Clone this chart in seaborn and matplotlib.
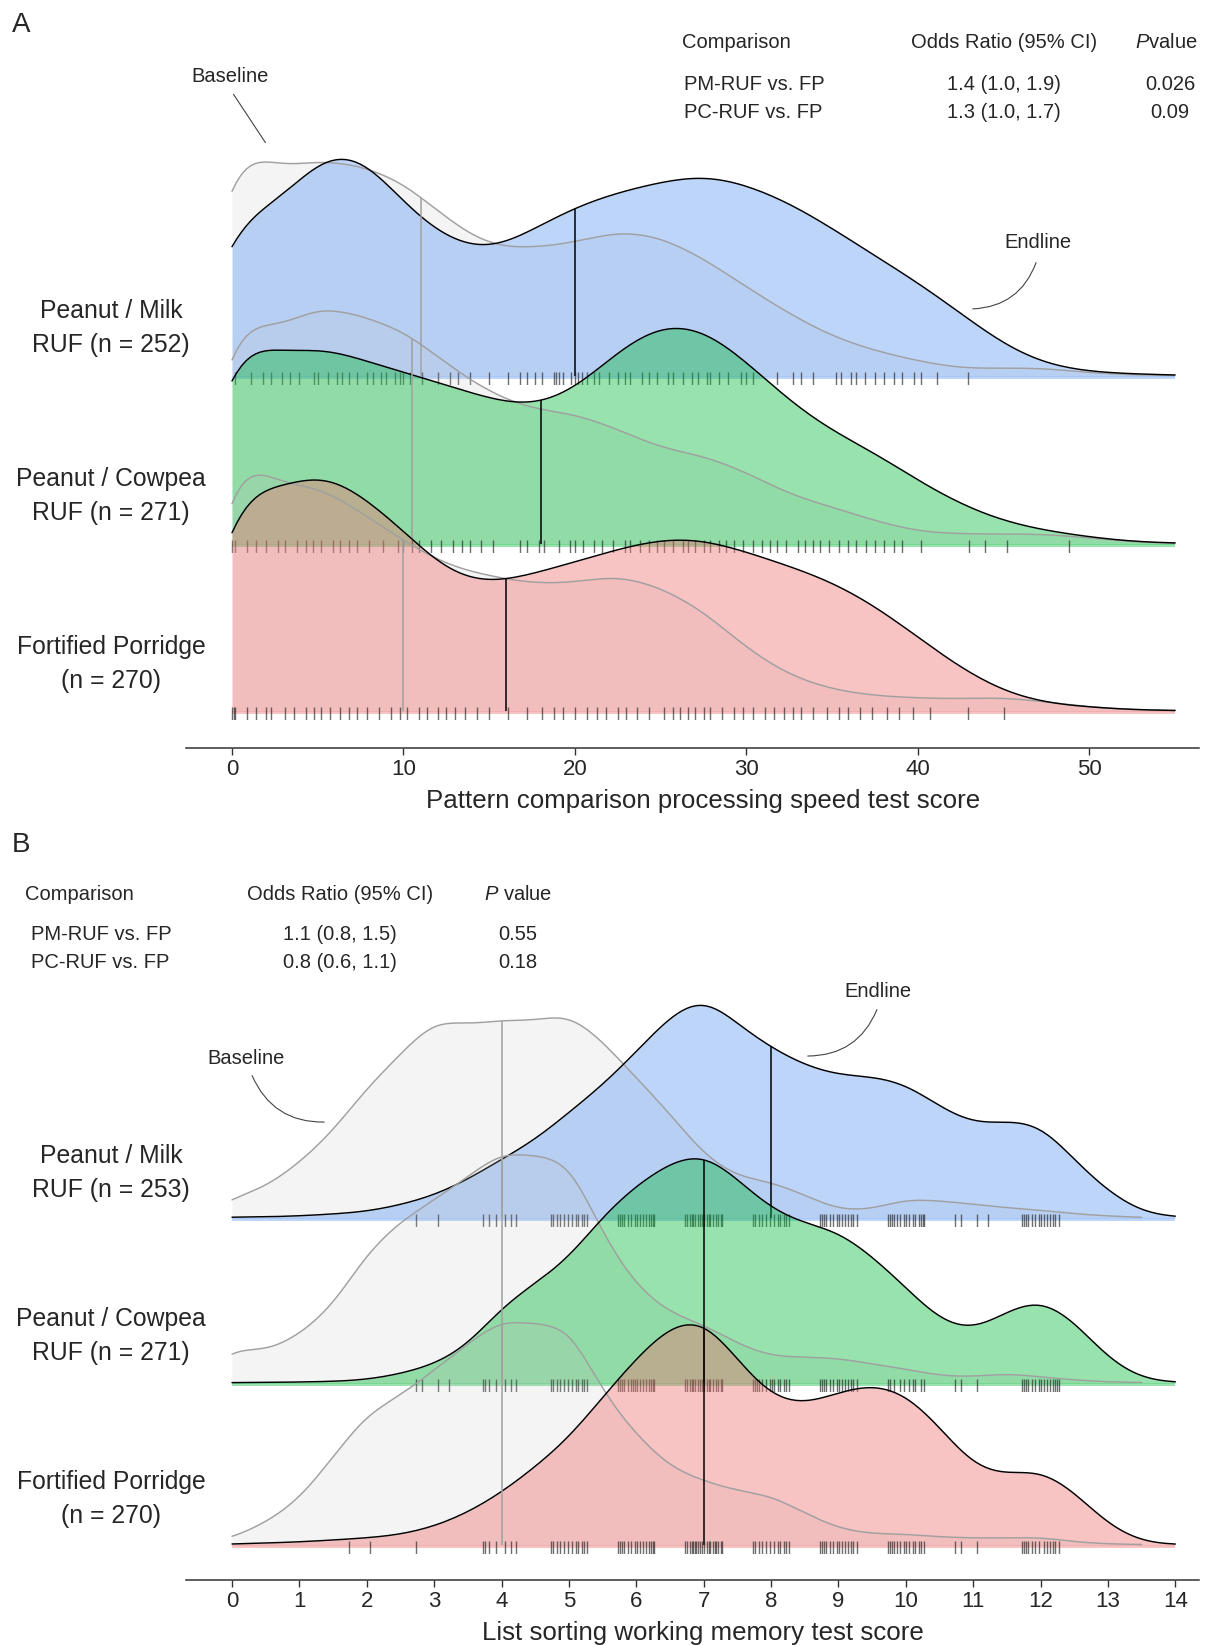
import numpy as np
import pandas as pd
import matplotlib
matplotlib.use("Agg")
import matplotlib.pyplot as plt
from matplotlib.colors import to_hex
from matplotlib.patches import FancyArrowPatch
import seaborn as sns

sns.set_style("white")
plt.rcParams["font.family"] = ["Liberation Sans", "DejaVu Sans"]
plt.rcParams["mathtext.fontset"] = "custom"
plt.rcParams["mathtext.rm"] = "Liberation Sans"
plt.rcParams["mathtext.it"] = "Liberation Sans:italic"

W, H = 1213, 1645

# ---------------- data ----------------
labels_a = ["Peanut / Milk\nRUF (n = 252)", "Peanut / Cowpea\nRUF (n = 271)", "Fortified Porridge\n(n = 270)"]
labels_b = ["Peanut / Milk\nRUF (n = 253)", "Peanut / Cowpea\nRUF (n = 271)", "Fortified Porridge\n(n = 270)"]

# panel A: estimated score distribution (relative frequency on a 2.5-point grid)
score_a = [0, 2.5, 5, 7.5, 10, 12.5, 15, 17.5, 20, 22.5, 25, 27.5, 30, 32.5, 35, 37.5, 40, 42.5, 45, 47.5, 50, 52.5, 55]
pm_base_a = [243, 205, 217, 211, 195, 157, 128, 128, 133, 146, 140, 118, 89, 62, 39, 25, 15, 7, 8, 8, 3, 1, 0.5]
pm_end_a = [174, 160, 225, 229, 170, 135, 121, 146, 170, 184, 194, 203, 192, 174, 148, 120, 94, 63, 30, 10, 4, 2, 1]
pc_base_a = [238, 210, 241, 228, 215, 180, 151, 134, 131, 115, 95, 89, 72, 49, 37, 23, 12, 10, 10, 10, 6, 2, 0.5]
pc_end_a = [228, 183, 201, 184, 172, 159, 145, 135, 152, 194, 223, 218, 183, 142, 112, 92, 63, 39, 22, 13, 7, 2, 1]
fp_base_a = [274, 224, 227, 199, 170, 145, 135, 127, 128, 137, 124, 101, 62, 35, 21, 15, 13, 12, 14, 9, 4, 1, 0.5]
fp_end_a = [247, 212, 247, 217, 182, 135, 125, 137, 149, 162, 173, 173, 159, 145, 130, 106, 74, 42, 18, 7, 4, 1, 0.5]

mean_base_a = [11.0, 10.5, 10.0]
mean_end_a = [20.0, 18.0, 16.0]

rug_pm_a = [0.2, 1.1, 1.8, 2.3, 2.9, 3.4, 3.9, 4.8, 5.0, 5.6, 6.1, 6.4, 6.8, 7.3, 7.9, 8.2, 8.7, 9.0, 9.5, 9.8,
            10.0, 10.4, 11.1, 12.0, 12.7, 13.2, 13.9, 15.0, 16.1, 16.8, 17.2, 17.7, 18.1, 18.8, 18.9, 19.1, 19.3,
            19.8, 20.0, 20.2, 20.4, 20.7, 21.1, 21.4, 22.0, 22.5, 22.9, 23.2, 23.9, 24.3, 24.8, 25.4, 25.7, 26.3,
            26.8, 27.2, 27.7, 27.9, 28.4, 28.9, 29.7, 30.0, 30.4, 31.8, 32.7, 33.2, 33.9, 35.2, 35.5, 36.1, 36.4,
            36.9, 37.5, 38.0, 38.6, 39.1, 39.8, 40.2, 41.1, 42.9]
rug_pc_a = [0.0, 0.2, 0.9, 1.4, 2.0, 2.7, 3.1, 3.8, 4.3, 4.7, 5.2, 5.9, 6.3, 6.8, 7.3, 8.0, 8.8, 9.7, 10.0, 10.5,
            10.9, 11.6, 12.2, 12.9, 13.4, 13.9, 14.5, 15.2, 16.8, 17.2, 17.9, 18.2, 19.1, 19.7, 20.0, 20.5, 21.1,
            21.6, 22.2, 22.9, 23.2, 23.8, 24.3, 24.8, 25.2, 25.7, 26.3, 26.6, 27.0, 27.5, 27.9, 28.4, 28.8, 29.3,
            29.8, 30.4, 30.9, 31.4, 31.8, 32.3, 33.0, 33.4, 33.9, 34.3, 34.8, 35.4, 35.9, 36.4, 37.0, 37.5, 38.0,
            38.6, 39.1, 40.2, 43.0, 43.9, 45.2, 48.8]
rug_fp_a = [0.0, 0.1, 0.2, 0.9, 1.4, 2.0, 2.3, 3.1, 3.6, 4.3, 4.8, 5.2, 5.7, 6.3, 6.8, 7.3, 7.9, 8.6, 9.3, 9.8,
            10.2, 10.9, 11.4, 12.0, 12.5, 13.0, 13.6, 14.3, 15.0, 16.1, 17.2, 18.1, 18.8, 19.3, 20.0, 20.7, 21.3,
            21.8, 22.5, 23.0, 23.6, 24.3, 25.2, 25.7, 26.1, 26.6, 27.0, 27.5, 27.9, 28.6, 29.3, 29.8, 30.4, 31.1,
            31.6, 32.2, 32.7, 33.2, 33.9, 34.7, 35.4, 35.9, 36.6, 37.3, 38.2, 38.9, 39.7, 40.7, 42.9, 45.0]

# panel B: estimated score distribution on a 0.5-point grid
score_b_base = [0, 0.5, 1, 1.5, 2, 2.5, 3, 3.5, 4, 4.5, 5, 5.5, 6, 6.5, 7, 7.5, 8, 8.5, 9, 9.5, 10, 10.5,
                11, 11.5, 12, 12.5, 13, 13.5]
score_b_end = [0, 0.5, 1, 1.5, 2, 2.5, 3, 3.5, 4, 4.5, 5, 5.5, 6, 6.5, 7, 7.5, 8, 8.5, 9, 9.5, 10, 10.5,
               11, 11.5, 12, 12.5, 13, 13.5, 14]
pm_base_b = [20, 30, 55, 86, 131, 163, 201, 192, 199, 196, 207, 177, 140, 105, 62, 40, 37, 23, 7, 8, 20, 17,
             14, 10, 8, 4, 2, 0.5]
pm_end_b = [1, 1, 2, 4, 6, 13, 22, 38, 59, 77, 106, 132, 166, 203, 227, 193, 170, 152, 142, 142, 136, 111,
            92, 97, 98, 57, 26, 4, 1]
pc_base_b = [38, 30, 48, 76, 131, 162, 183, 206, 233, 226, 227, 147, 96, 69, 59, 39, 26, 26, 25, 19, 14, 7,
             6, 10, 6, 3, 1, 0.5]
pc_end_b = [0.5, 0.5, 1, 1.5, 3, 9, 18, 36, 77, 100, 123, 168, 198, 221, 233, 204, 173, 159, 153, 127, 96, 61,
            50, 72, 87, 63, 23, 3, 0.5]
fp_base_b = [7, 22, 45, 88, 132, 149, 175, 201, 227, 220, 222, 152, 110, 77, 64, 54, 50, 32, 16, 11, 11, 8,
             7, 7, 8, 3, 1, 0.5]
fp_end_b = [1, 2, 3, 5, 7, 10, 18, 32, 52, 78, 106, 148, 187, 221, 230, 185, 146, 139, 153, 162, 153, 119,
            76, 69, 78, 54, 19, 2, 0.5]

mean_base_b = [4.0, 4.0, 4.0]
mean_end_b = [8.0, 7.0, 7.0]

# rug in panel B: number of children at each integer score, spread with a fixed jitter
rug_scores_b = [0, 1, 2, 3, 4, 5, 6, 7, 8, 9, 10, 11, 12, 13, 14]
rug_pm_counts_b = [0, 0, 0, 2, 6, 12, 15, 18, 12, 14, 15, 4, 14, 0, 0]
rug_pc_counts_b = [0, 0, 0, 4, 7, 12, 16, 18, 14, 14, 10, 3, 15, 0, 0]
rug_fp_counts_b = [0, 0, 2, 1, 7, 12, 15, 20, 12, 14, 14, 3, 13, 0, 0]
jitter = [-0.27, 0.05, -0.18, 0.22, -0.08, 0.14, -0.24, 0.27, -0.02, 0.10,
          -0.13, 0.19, -0.21, 0.01, 0.25, -0.05, 0.08, -0.16, 0.17, -0.11]

table_a = [["PM-RUF vs. FP", "1.4 (1.0, 1.9)", "0.026"], ["PC-RUF vs. FP", "1.3 (1.0, 1.7)", "0.09"]]
table_b = [["PM-RUF vs. FP", "1.1 (0.8, 1.5)", "0.55"], ["PC-RUF vs. FP", "0.8 (0.6, 1.1)", "0.18"]]

colors = ["#669df5", "#0aba3c", "#ee7272"]
GRAY_FILL = "#bdbdbd"
GRAY_LINE = "#a0a0a0"
ALPHA = 0.42

# ---------------- drawing ----------------
fig = plt.figure(figsize=(W / 100, H / 100), dpi=100)


def fx(px):
    return px / W


def fy(py):
    return 1 - py / H


AX_LEFT, AX_RIGHT = 186, 1199
BELOW, ABOVE = 9, 258


def draw_frame(axis_px, top_px, xlim, ticks, xlabel, label_x, label_dy):
    ax = fig.add_axes([fx(AX_LEFT), fy(axis_px), (AX_RIGHT - AX_LEFT) / W, (axis_px - top_px) / H])
    ax.patch.set_alpha(0)
    sns.despine(ax=ax, left=True)
    ax.spines["bottom"].set_linewidth(1.1)
    ax.spines["bottom"].set_color("#333333")
    ax.set_xlim(xlim)
    ax.set_yticks([])
    ax.set_xticks(ticks)
    ax.tick_params(axis="x", bottom=True, length=5, width=1, color="#333333", labelsize=16, pad=3)
    ax.set_xlabel(xlabel, fontsize=18.6)
    ax.xaxis.label.set_va("center")
    ax.xaxis.set_label_coords((label_x - AX_LEFT) / (AX_RIGHT - AX_LEFT), -label_dy / (axis_px - top_px))


def draw_row(zero_px, xlim, step, s_base, w_base, s_end, w_end, color, m_base, m_end, rug):
    ax = fig.add_axes([fx(AX_LEFT), fy(zero_px + BELOW), (AX_RIGHT - AX_LEFT) / W, (BELOW + ABOVE) / H])
    ax.patch.set_alpha(0)
    df = pd.concat([
        pd.DataFrame({"score": s_base, "weight": w_base, "time": "Baseline"}),
        pd.DataFrame({"score": s_end, "weight": w_end, "time": "Endline"}),
    ], ignore_index=True)
    # pixels per density unit
    scale = step * df["weight"].sum()
    kws = dict(data=df, x="score", weights="weight", hue="time", hue_order=["Endline", "Baseline"],
               common_norm=True, cut=0, bw_method=0.15, legend=False, ax=ax)
    sns.kdeplot(fill=True, alpha=ALPHA, linewidth=0,
                palette={"Baseline": GRAY_FILL, "Endline": color}, **kws)
    for coll in ax.collections:
        if to_hex(coll.get_facecolor()[0], keep_alpha=False) == GRAY_FILL:
            coll.set_alpha(0.16)
    ax.fill_between([min(s_end), max(s_end)], -3 / scale, 0, color=color, alpha=ALPHA, lw=0)
    sns.kdeplot(fill=False, linewidth=1.05,
                palette={"Baseline": GRAY_LINE, "Endline": "black"}, **kws)
    for line in ax.lines:
        c = to_hex(line.get_color())
        xs, ys = line.get_xdata(), line.get_ydata()
        if c == GRAY_LINE:
            ax.vlines(m_base, 0, np.interp(m_base, xs, ys), color=GRAY_LINE, lw=1.1)
        elif c == "#000000":
            ax.vlines(m_end, 0, np.interp(m_end, xs, ys), color="black", lw=1.1)
    sns.rugplot(x=rug, height=13 / (BELOW + ABOVE), color="#222222", alpha=0.65, lw=0.8,
                expand_margins=False, ax=ax)
    ax.set_xlim(xlim)
    ax.set_ylim(-BELOW / scale, ABOVE / scale)
    ax.axis("off")


def leader(p0, p1, rad):
    fig.add_artist(FancyArrowPatch(posA=(fx(p0[0]), fy(p0[1])), posB=(fx(p1[0]), fy(p1[1])),
                                   transform=fig.transFigure, arrowstyle="-",
                                   connectionstyle=f"arc3,rad={rad}", color="#444444", lw=0.8))


# ---- panel A ----
xlim_a = ((AX_LEFT - 232) / 17.146, (AX_RIGHT - 232) / 17.146)
draw_frame(748, 150, xlim_a, [0, 10, 20, 30, 40, 50],
           "Pattern comparison processing speed test score", 703, 53)
rows_a = [(pm_base_a, pm_end_a, rug_pm_a), (pc_base_a, pc_end_a, rug_pc_a), (fp_base_a, fp_end_a, rug_fp_a)]
zeros_a = [376, 544, 711]
for i, (wb, we, rug) in enumerate(rows_a):
    draw_row(zeros_a[i], xlim_a, 2.5, score_a, wb, score_a, we, colors[i],
             mean_base_a[i], mean_end_a[i], rug)

# ---- panel B ----
xlim_b = ((AX_LEFT - 232) / 67.38, (AX_RIGHT - 232) / 67.38)
draw_frame(1580, 1000, xlim_b, list(range(15)),
           "List sorting working memory test score", 703, 53)
counts_b = [rug_pm_counts_b, rug_pc_counts_b, rug_fp_counts_b]
rows_b = [(pm_base_b, pm_end_b), (pc_base_b, pc_end_b), (fp_base_b, fp_end_b)]
zeros_b = [1218, 1383, 1545]
for i, (wb, we) in enumerate(rows_b):
    rug = [s + j for s, c in zip(rug_scores_b, counts_b[i]) for j in jitter[:c]]
    draw_row(zeros_b[i], xlim_b, 0.5, score_b_base, wb, score_b_end, we, colors[i],
             mean_base_b[i], mean_end_b[i], rug)

# ---- row labels ----
for lab, z in zip(labels_a, [328, 496, 664]):
    fig.text(fx(111), fy(z), lab, ha="center", va="center", fontsize=17.8, linespacing=1.55)
for lab, z in zip(labels_b, [1173, 1336, 1499]):
    fig.text(fx(111), fy(z), lab, ha="center", va="center", fontsize=17.8, linespacing=1.55)

# ---- panel letters ----
fig.text(fx(12), fy(25), "A", fontsize=20, va="center", ha="left")
fig.text(fx(12), fy(845), "B", fontsize=20, va="center", ha="left")

# ---- tables ----
TS = 14.5
fig.text(fx(682), fy(43), "Comparison", fontsize=TS, va="center", ha="left")
fig.text(fx(1004), fy(43), "Odds Ratio (95% CI)", fontsize=TS, va="center", ha="center")
fig.text(fx(1166), fy(43), r"$P$value", fontsize=TS, va="center", ha="center")
for row, y in zip(table_a, [85, 113]):
    fig.text(fx(684), fy(y), row[0], fontsize=TS, va="center", ha="left")
    fig.text(fx(1004), fy(y), row[1], fontsize=TS, va="center", ha="center")
    fig.text(fx(1170), fy(y), row[2], fontsize=TS, va="center", ha="center")

fig.text(fx(25), fy(895), "Comparison", fontsize=TS, va="center", ha="left")
fig.text(fx(340), fy(895), "Odds Ratio (95% CI)", fontsize=TS, va="center", ha="center")
fig.text(fx(518), fy(895), r"$P$ value", fontsize=TS, va="center", ha="center")
for row, y in zip(table_b, [935, 963]):
    fig.text(fx(31), fy(y), row[0], fontsize=TS, va="center", ha="left")
    fig.text(fx(340), fy(y), row[1], fontsize=TS, va="center", ha="center")
    fig.text(fx(518), fy(y), row[2], fontsize=TS, va="center", ha="center")

# ---- annotations ----
fig.text(fx(230), fy(76), "Baseline", fontsize=TS, va="center", ha="center")
leader((232, 92), (267, 145), 0)
fig.text(fx(1038), fy(243), "Endline", fontsize=TS, va="center", ha="center")
leader((1037, 260), (970, 309), -0.35)

fig.text(fx(878), fy(992), "Endline", fontsize=TS, va="center", ha="center")
leader((878, 1007), (805, 1056), -0.35)
fig.text(fx(246), fy(1059), "Baseline", fontsize=TS, va="center", ha="center")
leader((251, 1073), (327, 1122), 0.35)

fig.savefig("out.png", dpi=100)
